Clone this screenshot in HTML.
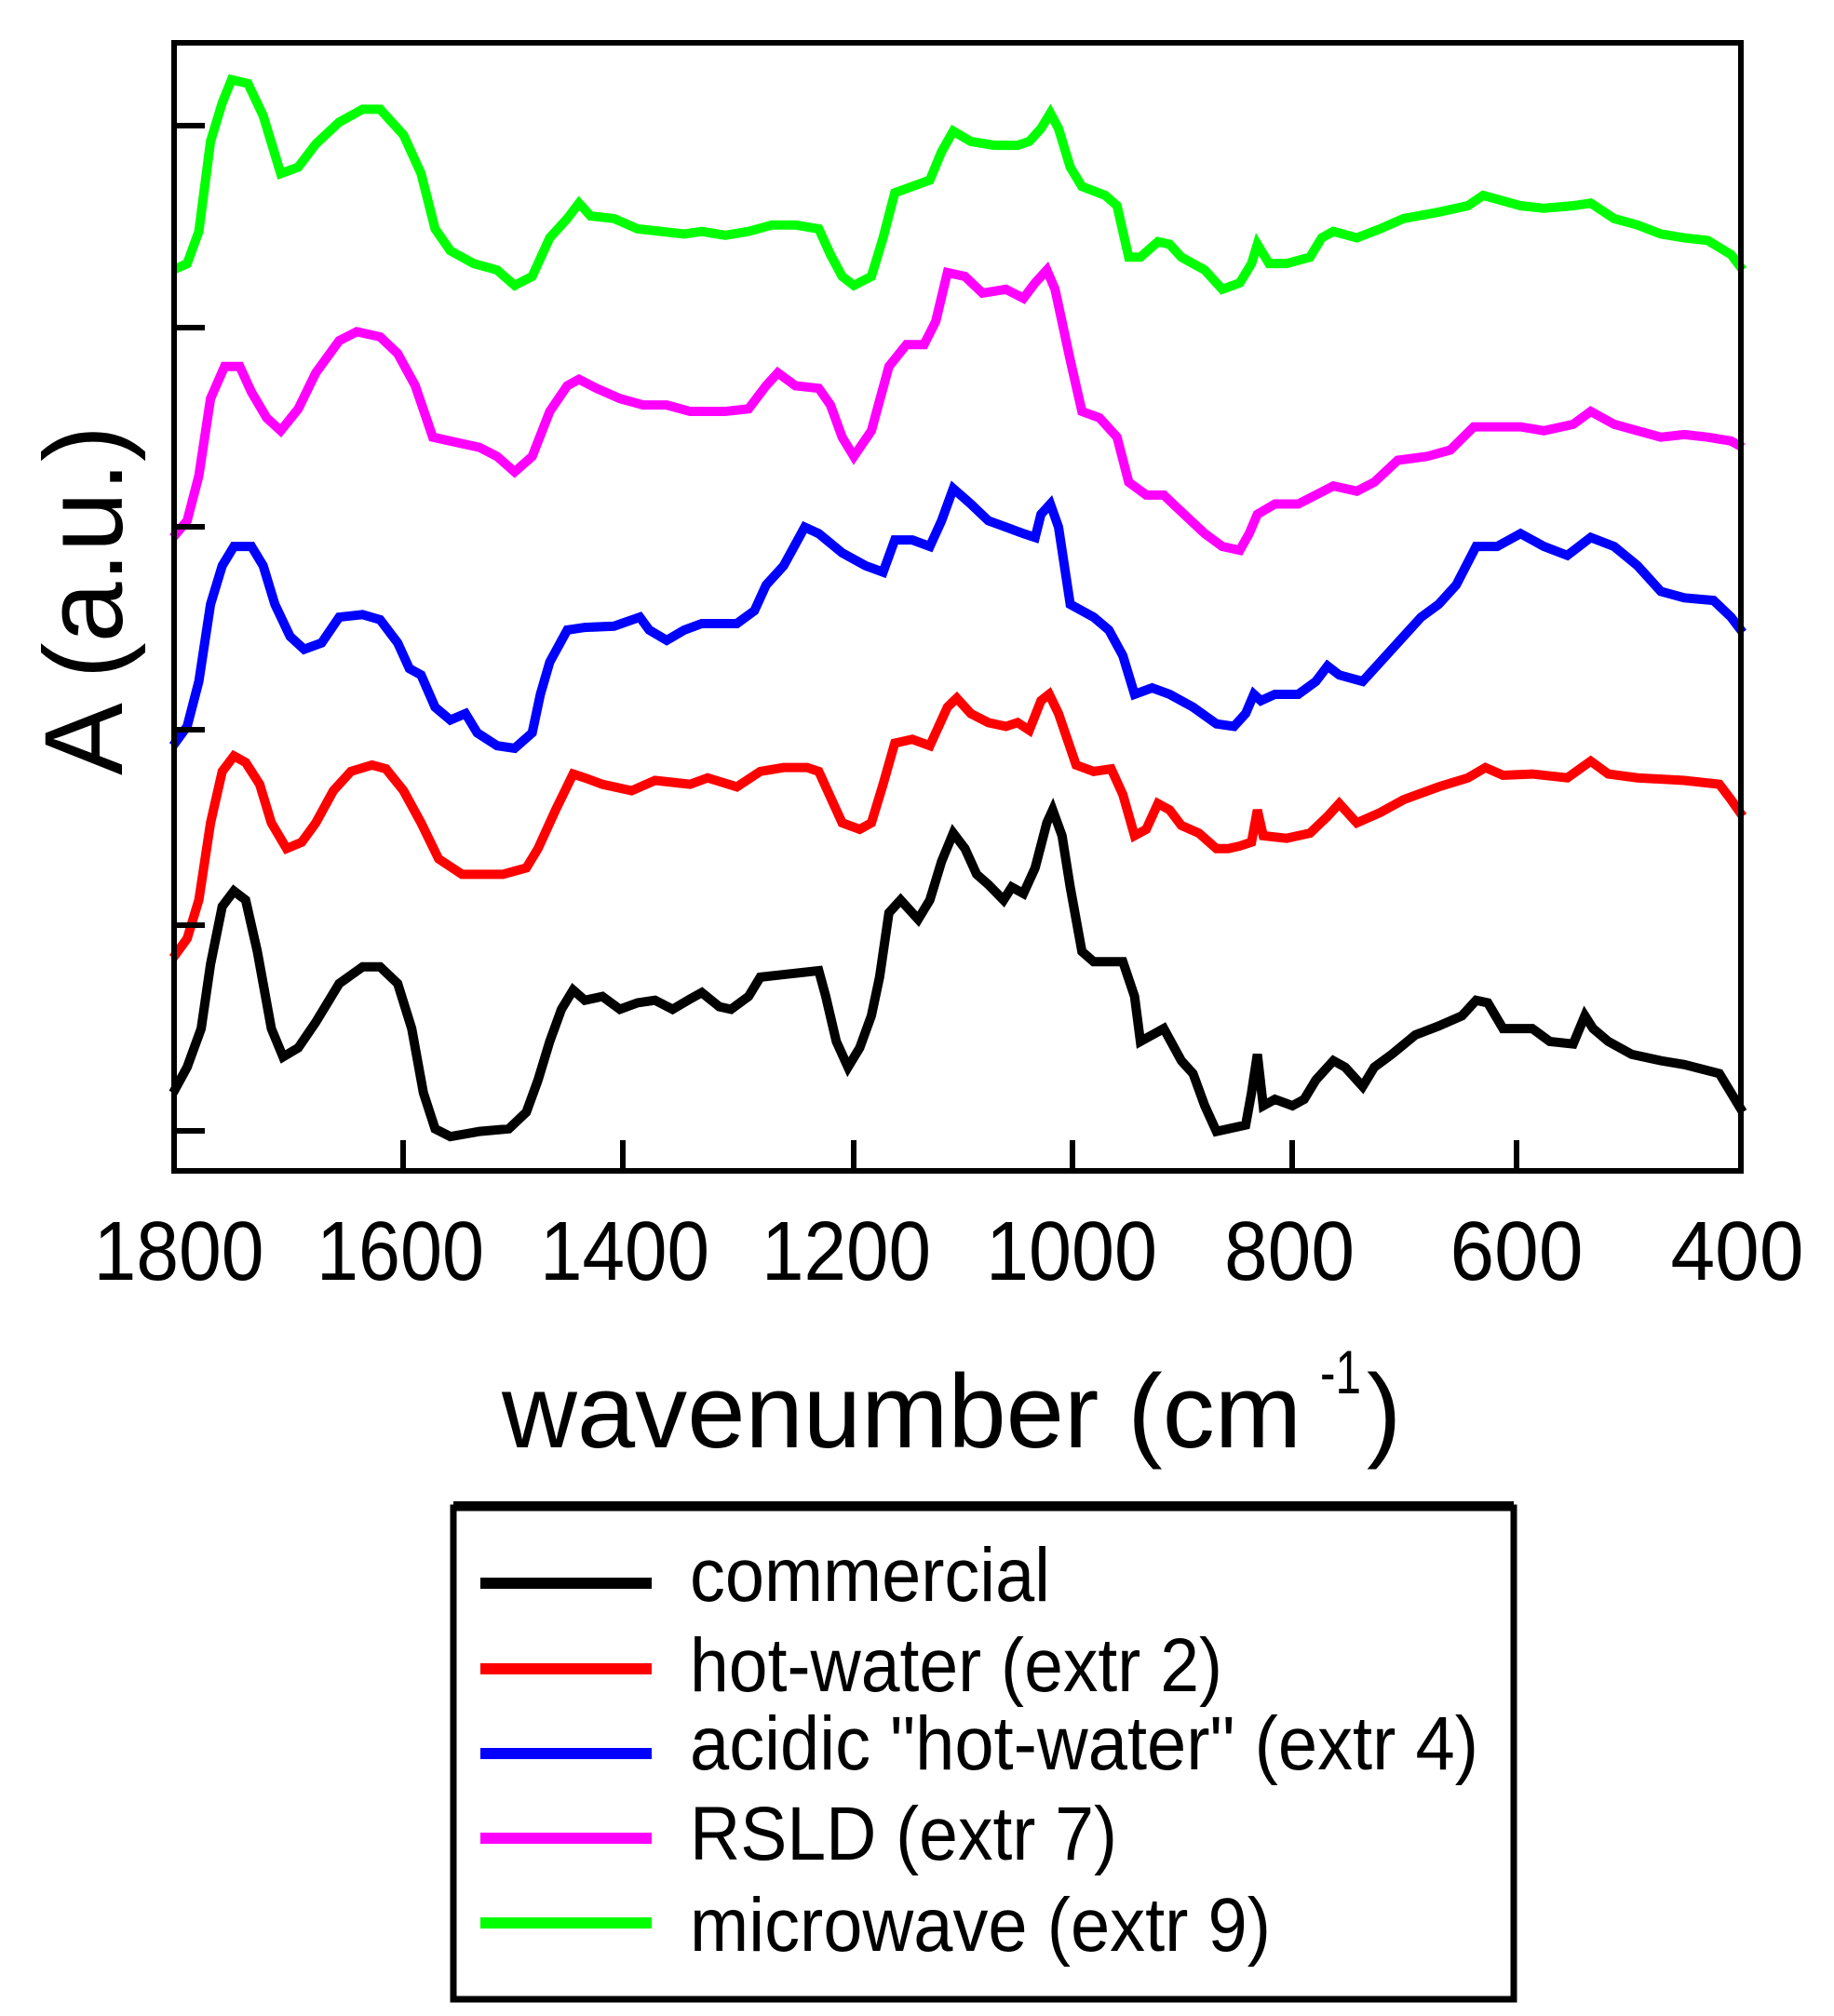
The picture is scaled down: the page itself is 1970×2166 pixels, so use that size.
<!DOCTYPE html>
<html><head><meta charset="utf-8"><style>
html,body{margin:0;padding:0;background:#fff;}
.wrap{position:relative;width:1970px;height:2166px;overflow:hidden;background:#fff;}
svg{position:absolute;left:0;top:0;}
text{font-family:"Liberation Sans",sans-serif;fill:#000;}
</style></head><body><div class="wrap">
<svg width="1970" height="2166" viewBox="0 0 1568 1568" preserveAspectRatio="none">
<g fill="none" stroke-width="10" stroke-linejoin="miter" vector-effect="non-scaling-stroke">
<polyline vector-effect="non-scaling-stroke" stroke="#000" points="148,850 160,830 172,800 180,750 190,705 200,693 210,700 220,740 232,800 242,822 255,815 270,795 290,765 310,752 325,752 340,765 352,800 362,850 372,878 385,884 410,880 435,878 450,865 460,840 470,810 480,785 490,770 500,778 515,775 530,785 545,780 560,778 575,785 590,777 600,772 615,783 625,785 640,775 650,760 670,758 700,755 706,775 715,810 725,830 735,815 745,790 752,760 760,710 770,700 785,715 795,700 805,670 815,648 825,660 835,680 845,688 858,700 865,690 875,695 885,675 895,640 900,630 908,650 915,690 925,740 935,748 960,748 970,775 975,810 985,805 995,800 1010,825 1020,835 1030,860 1040,880 1050,878 1065,875 1070,850 1075,820 1080,860 1090,855 1105,860 1115,855 1125,840 1140,825 1150,830 1165,845 1175,830 1190,820 1210,805 1230,798 1250,790 1262,778 1272,780 1285,800 1310,800 1325,810 1345,812 1355,790 1362,800 1375,810 1395,820 1420,825 1440,828 1470,835 1480,850 1490,865"/>
<polyline vector-effect="non-scaling-stroke" stroke="#f00" points="148,745 160,730 170,700 180,640 190,600 200,588 210,593 222,610 232,640 245,660 258,655 270,640 285,615 300,600 318,595 330,598 345,615 360,640 375,668 395,680 430,680 450,675 460,660 475,630 490,602 500,605 515,610 540,615 560,607 590,610 605,605 630,612 650,600 670,597 690,597 700,600 710,620 720,640 735,645 745,640 755,610 765,578 780,575 795,580 810,550 818,543 830,555 845,562 860,565 870,562 880,568 890,545 897,540 905,555 920,595 935,600 950,598 960,618 970,650 980,645 990,625 1000,630 1010,642 1025,648 1040,660 1050,660 1060,658 1070,655 1075,630 1080,650 1100,652 1120,648 1135,635 1145,625 1160,640 1180,632 1200,622 1230,612 1255,605 1270,597 1285,603 1310,602 1340,605 1360,592 1375,602 1400,605 1440,607 1470,610 1480,622 1490,635"/>
<polyline vector-effect="non-scaling-stroke" stroke="#00f" points="148,580 160,565 170,530 180,470 190,440 200,425 215,425 225,440 235,470 248,495 260,505 275,500 290,480 310,478 325,482 340,500 350,520 360,525 372,550 385,560 398,555 408,570 425,580 440,582 455,570 462,540 470,515 485,490 500,488 525,487 547,480 555,490 570,498 585,490 600,485 630,485 645,475 655,455 670,440 688,410 700,415 720,430 740,440 755,445 765,420 780,420 795,425 805,405 815,380 830,392 845,405 860,410 875,415 885,418 890,400 898,392 905,410 915,470 935,480 948,490 960,510 970,540 985,535 1000,540 1020,550 1040,563 1055,565 1065,555 1072,540 1078,545 1090,540 1110,540 1125,530 1135,518 1145,525 1165,530 1185,510 1200,495 1215,480 1230,470 1245,455 1262,425 1280,425 1300,415 1320,425 1340,432 1360,418 1380,425 1400,440 1420,460 1440,465 1465,467 1480,480 1490,492"/>
<polyline vector-effect="non-scaling-stroke" stroke="#f0f" points="148,418 160,405 170,370 180,310 192,285 205,285 215,305 228,325 240,335 255,318 270,290 290,265 305,258 325,262 340,275 355,300 370,340 395,345 410,348 425,355 440,367 455,355 470,320 485,300 495,295 510,302 530,310 550,315 570,315 590,320 620,320 640,318 655,300 665,290 680,300 700,302 710,315 720,340 730,355 745,335 760,285 775,268 790,268 800,250 810,212 825,215 840,228 860,225 875,232 885,220 895,210 902,225 915,280 925,320 940,325 955,340 965,375 980,385 995,385 1010,398 1030,415 1045,425 1060,428 1068,415 1075,400 1090,392 1110,392 1125,385 1140,378 1160,382 1175,375 1195,358 1220,355 1240,350 1260,332 1280,332 1300,332 1320,335 1345,330 1360,320 1380,330 1400,335 1420,340 1440,338 1460,340 1480,343 1490,348"/>
<polyline vector-effect="non-scaling-stroke" stroke="#0f0" points="148,210 160,205 170,180 180,110 190,80 198,62 212,65 225,90 240,135 255,130 270,112 290,95 310,85 325,85 345,105 360,135 372,178 385,195 405,205 425,210 440,222 455,215 470,185 485,170 495,158 505,168 525,170 545,178 565,180 585,182 600,180 620,183 640,180 660,175 680,175 700,178 710,198 720,215 730,222 745,215 755,185 765,150 780,145 795,140 805,118 815,102 830,110 850,113 870,113 880,110 890,100 898,88 905,100 915,130 925,145 945,152 955,160 965,200 975,200 990,188 1000,190 1010,200 1030,210 1045,225 1060,220 1070,205 1075,190 1085,205 1100,205 1120,200 1130,185 1140,180 1160,185 1180,178 1200,170 1230,165 1255,160 1268,152 1280,155 1300,160 1320,162 1345,160 1360,158 1380,170 1400,175 1420,182 1440,185 1460,187 1480,198 1490,210"/>
</g>
</svg>
<svg width="1970" height="2166" viewBox="0 0 1970 2166">
<rect x="187" y="46" width="1683" height="1212" fill="none" stroke="#000" stroke-width="6"/>
<g stroke="#000" stroke-width="6">
<line x1="187" y1="135" x2="220" y2="135"/><line x1="187" y1="352" x2="220" y2="352"/>
<line x1="187" y1="566" x2="220" y2="566"/><line x1="187" y1="784" x2="220" y2="784"/>
<line x1="187" y1="994" x2="220" y2="994"/><line x1="187" y1="1215" x2="220" y2="1215"/>
<line x1="433" y1="1258" x2="433" y2="1225"/><line x1="669" y1="1258" x2="669" y2="1225"/>
<line x1="917" y1="1258" x2="917" y2="1225"/><line x1="1152" y1="1258" x2="1152" y2="1225"/>
<line x1="1388" y1="1258" x2="1388" y2="1225"/><line x1="1629" y1="1258" x2="1629" y2="1225"/>
</g>
<g font-size="90" text-anchor="middle">
<text x="192" y="1375" textLength="183" lengthAdjust="spacingAndGlyphs">1800</text>
<text x="430" y="1375" textLength="180" lengthAdjust="spacingAndGlyphs">1600</text>
<text x="671" y="1375" textLength="182" lengthAdjust="spacingAndGlyphs">1400</text>
<text x="909" y="1375" textLength="182" lengthAdjust="spacingAndGlyphs">1200</text>
<text x="1151" y="1375" textLength="184" lengthAdjust="spacingAndGlyphs">1000</text>
<text x="1385" y="1375" textLength="140" lengthAdjust="spacingAndGlyphs">800</text>
<text x="1629" y="1375" textLength="143" lengthAdjust="spacingAndGlyphs">600</text>
<text x="1866" y="1375" textLength="143" lengthAdjust="spacingAndGlyphs">400</text>
</g>
<text x="539" y="1555" font-size="112" textLength="859" lengthAdjust="spacingAndGlyphs">wavenumber (cm</text>
<text x="1418" y="1497" font-size="66" textLength="44" lengthAdjust="spacingAndGlyphs">-1</text>
<text x="1468" y="1555" font-size="112">)</text>
<text transform="translate(131,833) rotate(-90)" font-size="120" textLength="376" lengthAdjust="spacingAndGlyphs">A (a.u.)</text>
<rect x="487" y="1620" width="1139" height="528" fill="none" stroke="#000" stroke-width="7"/>
<line x1="487" y1="1618" x2="1626" y2="1618" stroke="#000" stroke-width="10"/>
<g stroke-width="12">
<line x1="516" y1="1701" x2="700" y2="1701" stroke="#000"/>
<line x1="516" y1="1793" x2="700" y2="1793" stroke="#f00"/>
<line x1="516" y1="1884" x2="700" y2="1884" stroke="#00f"/>
<line x1="516" y1="1975" x2="700" y2="1975" stroke="#f0f"/>
<line x1="516" y1="2066" x2="700" y2="2066" stroke="#0f0"/>
</g>
<g font-size="82" lengthAdjust="spacingAndGlyphs">
<text x="741" y="1720" textLength="387" lengthAdjust="spacingAndGlyphs">commercial</text>
<text x="741" y="1817" textLength="572" lengthAdjust="spacingAndGlyphs">hot-water (extr 2)</text>
<text x="741" y="1901" textLength="847" lengthAdjust="spacingAndGlyphs">acidic "hot-water" (extr 4)</text>
<text x="741" y="1998" textLength="459" lengthAdjust="spacingAndGlyphs">RSLD (extr 7)</text>
<text x="741" y="2096" textLength="624" lengthAdjust="spacingAndGlyphs">microwave (extr 9)</text>
</g>
</svg>
</div></body></html>
